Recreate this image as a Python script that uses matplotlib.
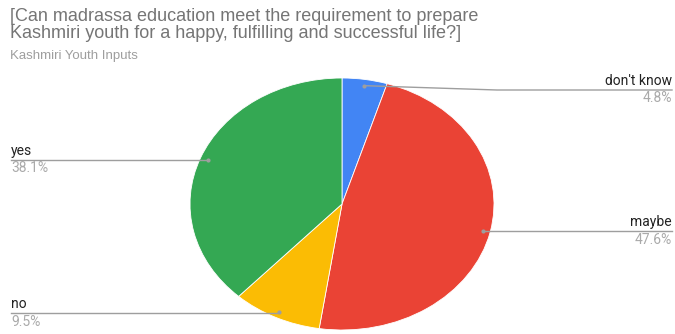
import numpy as np
import matplotlib
matplotlib.use("Agg")
import matplotlib.pyplot as plt

# Survey answers, clockwise from 12 o'clock
answers = ["don't know", "maybe", "no", "yes"]
shares = [4.8, 47.6, 9.5, 38.1]
colors = ["#4285F4", "#EA4335", "#FBBC04", "#34A853"]
pct_labels = ["4.8%", "47.6%", "9.5%", "38.1%"]

W, H = 675, 334
CX, CY, RX, RY = 342, 204, 152, 126   # pie centre and radii in pixels

fig = plt.figure(figsize=(W / 100, H / 100), dpi=100)

# pie axes, stretched so the pie is drawn as an ellipse
ax = fig.add_axes([(CX - RX) / W, (H - CY - RY) / H, 2 * RX / W, 2 * RY / H])
wedges, _ = ax.pie(shares, colors=colors, startangle=90, counterclock=False,
                   wedgeprops=dict(edgecolor="white", linewidth=0.6))
ax.set_xlim(-1, 1)
ax.set_ylim(-1, 1)
ax.set_aspect("auto")
ax.axis("off")

# overlay in pixel coordinates for leader lines and labels
ov = fig.add_axes([0, 0, 1, 1], zorder=5)
ov.set_xlim(0, W)
ov.set_ylim(H, 0)
ov.axis("off")
ov.patch.set_alpha(0)

line_c = "#9e9e9e"
lbl_font = dict(family="Roboto", fontsize=10)

# label side and the y of the leader line, per answer
label_side = ["right", "right", "left", "left"]
label_y = [90, 231, 313, 160]

for w, name, pct, side, ly in zip(wedges, answers, pct_labels, label_side, label_y):
    mid = np.deg2rad((w.theta1 + w.theta2) / 2)
    dx = CX + 0.95 * RX * np.cos(mid)
    dy = CY - 0.95 * RY * np.sin(mid)
    ov.plot(dx, dy, "o", ms=3, color=line_c, mec="none")
    if side == "right":
        xe = 672
        if abs(dy - ly) > 2:
            ov.plot([dx, 497, xe], [dy, ly, ly], color=line_c, lw=1)
        else:
            ov.plot([dx, xe], [ly, ly], color=line_c, lw=1)
        ha = "right"
    else:
        xe = 11
        ov.plot([xe, dx], [ly, ly], color=line_c, lw=1)
        ha = "left"
    ov.text(xe, ly - 2, name, ha=ha, va="bottom", color="#222222", **lbl_font)
    ov.text(xe, ly + 1.5, pct, ha=ha, va="top", color="#aaaaaa", **lbl_font)

fig.text(10 / W, 1 - 8 / H,
         "[Can madrassa education meet the requirement to prepare\n"
         "Kashmiri youth for a happy, fulfilling and successful life?]",
         ha="left", va="top", fontsize=13, family="Liberation Sans",
         color="#757575", linespacing=1.0)
fig.text(10 / W, 1 - 50 / H, "Kashmiri Youth Inputs", ha="left", va="top",
         fontsize=9.5, family="Liberation Sans", color="#9e9e9e")

fig.savefig("out.png", dpi=100)
